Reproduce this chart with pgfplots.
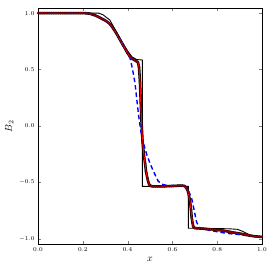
\documentclass[border=0pt]{standalone}
\usepackage{pgfplots}
\usepackage{pgfplotstable}
\pgfplotsset{compat=1.18}
\pgfplotstableread{
x y
0.00 1.0
0.01 1.0
0.02 1.0
0.03 1.0
0.04 1.0
0.05 1.0
0.06 1.0
0.07 1.0
0.08 1.0
0.09 1.0
0.10 1.0
0.11 1.0
0.12 1.0
0.13 1.0
0.14 1.0
0.15 1.0
0.16 1.0
0.17 1.0
0.18 1.0
0.19 1.0
0.20 1.0
0.21 0.999
0.22 0.998
0.23 0.995
0.24 0.99
0.25 0.983
0.26 0.975
0.27 0.966
0.28 0.955
0.29 0.945
0.30 0.935
0.31 0.921
0.32 0.905
0.33 0.88
0.34 0.85
0.35 0.82
0.36 0.785
0.37 0.75
0.38 0.715
0.39 0.68
0.40 0.645
0.41 0.615
0.42 0.595
0.43 0.585
0.438 0.575
0.446 0.565
0.451 0.52
0.455 0.40
0.459 0.20
0.463 0.0
0.467 -0.145
0.473 -0.26
0.478 -0.33
0.482 -0.40
0.488 -0.46
0.493 -0.50
0.497 -0.52
0.505 -0.532
0.515 -0.535
0.525 -0.535
0.535 -0.535
0.545 -0.535
0.555 -0.534
0.565 -0.534
0.575 -0.533
0.585 -0.533
0.595 -0.532
0.605 -0.531
0.615 -0.530
0.625 -0.529
0.635 -0.528
0.645 -0.528
0.655 -0.532
0.661 -0.545
0.667 -0.565
0.671 -0.59
0.675 -0.63
0.679 -0.67
0.683 -0.74
0.686 -0.81
0.690 -0.86
0.693 -0.89
0.70 -0.904
0.71 -0.906
0.72 -0.907
0.73 -0.908
0.74 -0.910
0.75 -0.912
0.76 -0.913
0.77 -0.915
0.78 -0.916
0.79 -0.918
0.80 -0.920
0.81 -0.922
0.82 -0.925
0.83 -0.928
0.84 -0.931
0.85 -0.935
0.86 -0.939
0.87 -0.943
0.88 -0.946
0.89 -0.949
0.90 -0.952
0.91 -0.956
0.92 -0.960
0.93 -0.964
0.94 -0.968
0.95 -0.972
0.96 -0.975
0.97 -0.977
0.98 -0.979
0.99 -0.981
1.00 -0.982
}\redtab
\pgfplotstableread{
x y
0.00 1.0
0.27 1.0
0.29 0.985
0.31 0.955
0.32 0.94
0.34 0.87
0.36 0.80
0.38 0.73
0.40 0.665
0.42 0.612
0.44 0.589
0.466 0.584
0.466 -0.535
0.671 -0.535
0.671 -0.905
0.85 -0.910
0.89 -0.915
0.91 -0.930
0.93 -0.950
0.946 -0.965
0.97 -0.975
1.00 -0.982
}\exacttab
\pgfplotstableread{
x y
0.00 1.0
0.22 1.0
0.25 0.99
0.28 0.96
0.30 0.935
0.33 0.88
0.36 0.79
0.39 0.69
0.40 0.65
0.41 0.61
0.418 0.54
0.425 0.47
0.433 0.38
0.443 0.20
0.452 0.05
0.464 -0.11
0.475 -0.18
0.485 -0.25
0.50 -0.33
0.515 -0.40
0.537 -0.49
0.56 -0.52
0.58 -0.527
0.65 -0.527
0.665 -0.54
0.686 -0.64
0.708 -0.85
0.72 -0.90
0.77 -0.926
0.84 -0.95
0.90 -0.962
0.95 -0.975
1.00 -0.985
}\bluetab
\begin{document}
\begin{tikzpicture}
\begin{axis}[
  scale only axis,
  width=224bp, height=236bp,
  xmin=0, xmax=1, ymin=-1.045, ymax=1.045,
  xtick={0,0.2,0.4,0.6,0.8,1.0},
  ytick={-1,-0.5,0,0.5,1},
  xticklabel style={/pgf/number format/.cd,fixed,fixed zerofill,precision=1},
  yticklabel style={/pgf/number format/.cd,fixed,fixed zerofill,precision=1},
  tick label style={font=\fontsize{6.3}{7}\selectfont},
  tick align=inside,
  major tick length=3bp,
  xtick pos=both, ytick pos=both,
  axis line style={line width=0.8pt},
  xlabel={$x$}, ylabel={$B_2$},
  label style={font=\normalsize},
  xlabel style={yshift=1bp},
  ylabel style={yshift=-1bp},
]
\addplot[black, line width=2.6pt, line join=round] table[x=x,y=y] {\redtab};
\addplot[black, line width=0.9pt] table[x=x,y=y] {\exacttab};
\addplot[blue, line width=1.4pt, dash pattern=on 4.5pt off 3pt] table[x=x,y=y] {\bluetab};
\addplot[red, line width=1.1pt, mark=*, mark size=1.1pt, mark options={fill=red!80!black, draw=black!70!red, line width=0.3pt}] table[x=x,y=y] {\redtab};
\end{axis}
\pgfresetboundingbox
\path ([shift={(-38bp,-31bp)}]current axis.south west) rectangle ([shift={(13bp,8bp)}]current axis.north east);
\end{tikzpicture}
\end{document}
